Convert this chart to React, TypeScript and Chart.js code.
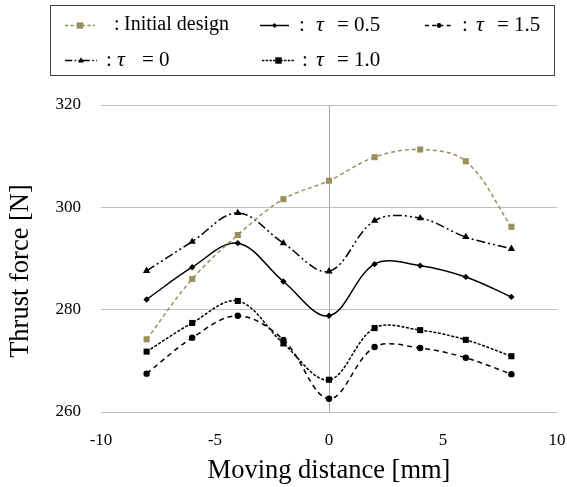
import React, { useEffect, useRef } from 'react';
import { Chart, registerables } from 'chart.js';

Chart.register(...registerables);

// ---- data ----
const xValues = [-8, -6, -4, -2, 0, 2, 4, 6, 8];
const initialDesign = [274.2, 286.0, 294.6, 301.6, 305.2, 309.8, 311.3, 309.0, 296.2];
const tau0 = [287.6, 293.3, 298.9, 293.0, 287.5, 297.4, 297.9, 294.2, 291.9];
const tau05 = [282.0, 288.3, 293.0, 285.5, 278.8, 288.9, 288.6, 286.4, 282.5];
const tau10 = [271.8, 277.4, 281.7, 273.4, 266.3, 276.4, 276.0, 274.1, 270.9];
const tau15 = [267.5, 274.5, 278.8, 274.1, 262.6, 272.7, 272.5, 270.6, 267.4];
const xTicks = [-10, -5, 0, 5, 10];
const yTicks = [260, 280, 300, 320];
const seriesNames = ['Initial design', 'τ = 0', 'τ = 0.5', 'τ = 1.0', 'τ = 1.5'];
const xTitle = 'Moving distance [mm]';
const yTitle = 'Thrust force [N]';

const OLIVE = '#9b8f5d';
const FONT = '"Liberation Serif", "Times New Roman", serif';

const seriesValues = [initialDesign, tau0, tau05, tau10, tau15];
const seriesStyles = [
  { color: OLIVE, dash: [4, 3], point: 'rect', r: 4.3 },
  { color: '#000', dash: [9, 3, 2, 3, 2, 3], point: 'triangle', r: 4.2 },
  { color: '#000', dash: [], point: 'rectRot', r: 3.2 },
  { color: '#000', dash: [3, 1.6], point: 'rect', r: 4.3 },
  { color: '#000', dash: [5, 4], point: 'circle', r: 3.2 },
];

function drawMarker(ctx: CanvasRenderingContext2D, style: string, x: number, y: number, r: number, color: string) {
  ctx.save();
  ctx.setLineDash([]);
  ctx.fillStyle = color;
  ctx.beginPath();
  if (style === 'rect') {
    ctx.rect(x - r, y - r, 2 * r, 2 * r);
  } else if (style === 'rectRot') {
    ctx.moveTo(x, y - r);
    ctx.lineTo(x + r, y);
    ctx.lineTo(x, y + r);
    ctx.lineTo(x - r, y);
    ctx.closePath();
  } else if (style === 'triangle') {
    ctx.moveTo(x, y - r);
    ctx.lineTo(x + r * 0.95, y + r * 0.65);
    ctx.lineTo(x - r * 0.95, y + r * 0.65);
    ctx.closePath();
  } else {
    ctx.arc(x, y, r, 0, Math.PI * 2);
  }
  ctx.fill();
  ctx.restore();
}

// legend layout positions
const legendLayout = [
  { i: 0, sx0: 65, sx1: 95, y: 25, cx: 114, tx: 0, ex: 124 },
  { i: 2, sx0: 260, sx1: 289, y: 25, cx: 299, tx: 316, ex: 337 },
  { i: 4, sx0: 425, sx1: 453, y: 25, cx: 462, tx: 476, ex: 497 },
  { i: 1, sx0: 65, sx1: 97, y: 60, cx: 106, tx: 117, ex: 142 },
  { i: 3, sx0: 262, sx1: 295, y: 60, cx: 302, tx: 316, ex: 337 },
];

const legendPlugin = {
  id: 'customLegend',
  afterDraw(chart: any) {
    const ctx: CanvasRenderingContext2D = chart.ctx;
    ctx.save();
    ctx.strokeStyle = '#404040';
    ctx.lineWidth = 1;
    ctx.setLineDash([]);
    ctx.strokeRect(50.5, 5.5, 504, 70);
    ctx.textBaseline = 'middle';
    ctx.textAlign = 'left';
    ctx.fillStyle = '#000';
    for (const item of legendLayout) {
      const st = seriesStyles[item.i];
      const name = seriesNames[item.i];
      ctx.save();
      ctx.strokeStyle = st.color;
      ctx.lineWidth = 1.5;
      ctx.setLineDash(st.dash.length ? st.dash.map((d) => d * 0.8) : []);
      ctx.beginPath();
      ctx.moveTo(item.sx0, item.y + 0.5);
      ctx.lineTo(item.sx1, item.y + 0.5);
      ctx.stroke();
      ctx.restore();
      drawMarker(ctx, st.point, (item.sx0 + item.sx1) / 2, item.y + 0.5, st.r * 0.75, st.color);
      ctx.fillStyle = '#000';
      if (name.startsWith('τ')) {
        ctx.font = `21px ${FONT}`;
        ctx.fillText(':', item.cx, item.y);
        ctx.font = `italic 22px ${FONT}`;
        ctx.fillText('τ', item.tx, item.y);
        ctx.font = `21px ${FONT}`;
        ctx.fillText(name.slice(2), item.ex, item.y);
      } else {
        ctx.font = `20px ${FONT}`;
        ctx.fillText(':', item.cx, item.y);
        ctx.fillText(name, item.ex, item.y);
      }
    }
    // y axis title
    ctx.save();
    ctx.translate(21, 271);
    ctx.rotate(-Math.PI / 2);
    ctx.textAlign = 'center';
    ctx.textBaseline = 'middle';
    ctx.font = `26.5px ${FONT}`;
    ctx.fillStyle = '#000';
    ctx.fillText(yTitle, 0, 0);
    ctx.restore();
    ctx.restore();
  },
};

export default function App() {
  const canvasRef = useRef<HTMLCanvasElement | null>(null);

  useEffect(() => {
    if (!canvasRef.current) return;
    const datasets = seriesValues.map((vals, k) => {
      const st = seriesStyles[k];
      return {
        label: seriesNames[k],
        data: xValues.map((x, j) => ({ x, y: vals[j] })),
        borderColor: st.color,
        backgroundColor: st.color,
        borderWidth: 1.5,
        borderDash: st.dash,
        pointStyle: st.point,
        pointRadius: st.r,
        pointBackgroundColor: st.color,
        pointBorderColor: st.color,
        pointBorderWidth: 0,
        tension: 0.36,
        fill: false,
      };
    });
    const chart = new Chart(canvasRef.current, {
      type: 'line',
      data: { datasets },
      plugins: [legendPlugin],
      options: {
        animation: false,
        responsive: false,
        devicePixelRatio: 1,
        layout: { padding: { top: 105, right: 10, left: 0, bottom: 0 } },
        plugins: { legend: { display: false }, tooltip: { enabled: false } },
        scales: {
          x: {
            type: 'linear',
            min: xTicks[0],
            max: xTicks[xTicks.length - 1],
            afterBuildTicks: (s: any) => {
              s.ticks = xTicks.map((v) => ({ value: v }));
            },
            afterFit: (s: any) => {
              s.height = 75;
              s.paddingLeft = 0;
              s.paddingRight = 0;
            },
            border: { display: false },
            grid: {
              drawTicks: false,
              color: (c: any) => (c.tick && c.tick.value === 0 ? '#a6a6a6' : 'rgba(0,0,0,0)'),
              lineWidth: 1,
            },
            ticks: {
              padding: 18,
              color: '#000',
              font: { family: FONT, size: 17 },
              maxRotation: 0,
              callback: (v: any) => String(v),
            },
            title: {
              display: true,
              text: xTitle,
              color: '#000',
              font: { family: FONT, size: 26.5 },
              padding: { top: 0, bottom: 0 },
            },
          },
          y: {
            type: 'linear',
            min: yTicks[0],
            max: yTicks[yTicks.length - 1],
            afterBuildTicks: (s: any) => {
              s.ticks = yTicks.map((v) => ({ value: v }));
            },
            afterFit: (s: any) => {
              s.width = 101;
            },
            border: { display: false },
            grid: { drawTicks: false, color: '#c0c0c0', lineWidth: 1 },
            ticks: {
              padding: 20,
              color: '#000',
              font: { family: FONT, size: 17 },
              callback: (v: any) => String(v),
            },
            title: { display: false, text: yTitle },
          },
        },
      },
    });
    return () => chart.destroy();
  }, []);

  return (
    <div style={{ position: 'absolute', left: 0, top: 0, width: 567, height: 487, background: '#fff' }}>
      <canvas ref={canvasRef} width={567} height={487} style={{ width: 567, height: 487, display: 'block' }} />
    </div>
  );
}
